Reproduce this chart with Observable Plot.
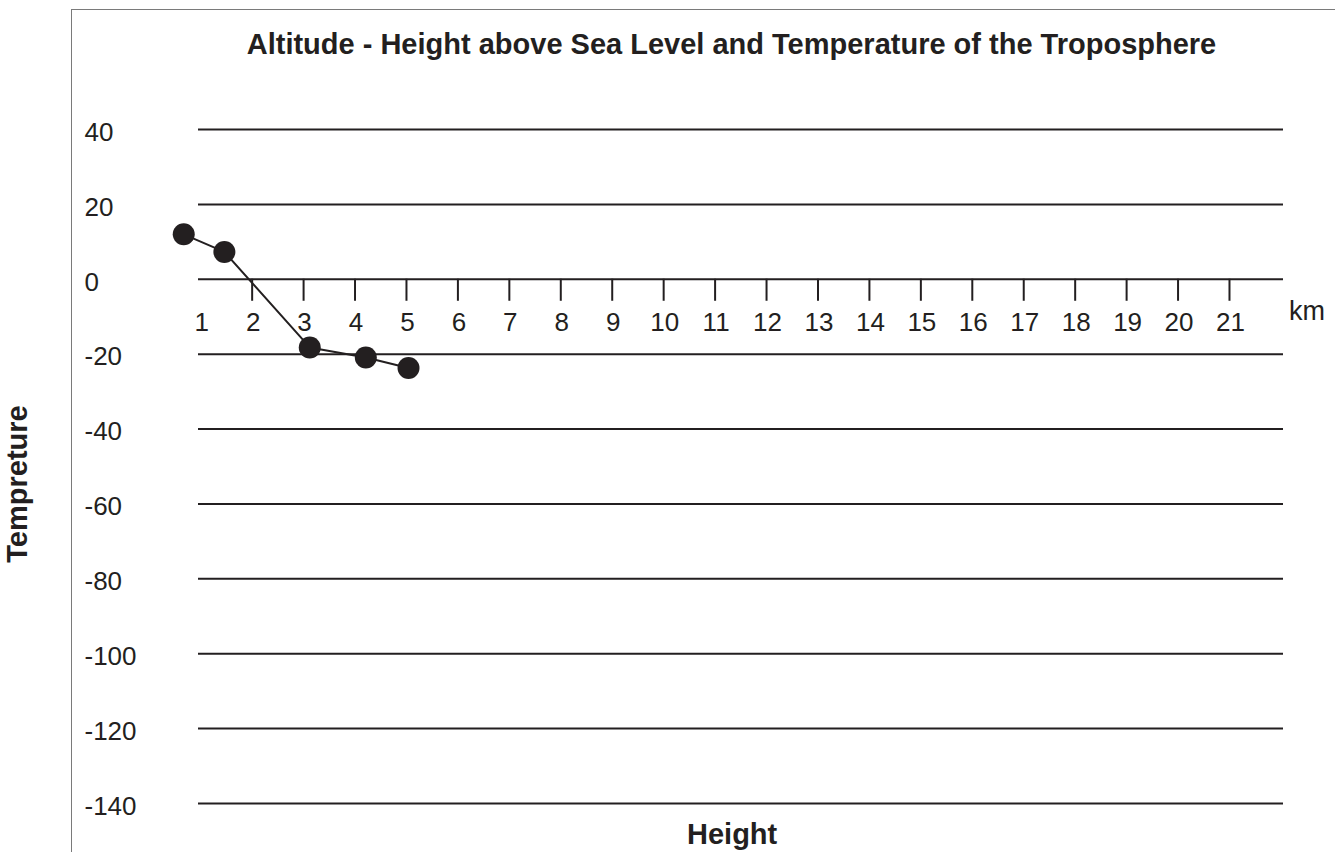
<!DOCTYPE html>
<html>
<head>
<meta charset="utf-8">
<script src="https://cdn.jsdelivr.net/npm/d3@7"></script>
<script src="https://cdn.jsdelivr.net/npm/@observablehq/plot@0.6"></script>
<style>
  html, body { margin: 0; padding: 0; background: #fff; }
  #wrap { position: relative; width: 1335px; height: 852px; overflow: hidden; font-family: "Liberation Sans", Arial, sans-serif; color: #231f20; }
  #frame { position: absolute; left: 71px; top: 9px; width: 1300px; height: 900px; border-top: 1.5px solid #7a7a7a; border-left: 1.5px solid #7a7a7a; }
  #chart { position: absolute; left: 0; top: 0; }
  .lbl { position: absolute; white-space: nowrap; font-weight: bold; font-size: 29px; line-height: 1; }
  #title { left: 0; width: 1463px; text-align: center; top: 30px; }
  #xlabel { left: 687px; top: 820px; }
  #ylabel { left: 32px; top: 484px; transform-origin: 0 0; transform: rotate(-90deg) translate(-50%, -100%); }
  #unit { position: absolute; left: 1289px; top: 298px; font-size: 27px; line-height: 1; }
</style>
</head>
<body>
<div id="wrap">
  <div id="frame"></div>
  <div id="chart"></div>
  <div id="title" class="lbl">Altitude - Height above Sea Level and Temperature of the Troposphere</div>
  <div id="xlabel" class="lbl">Height</div>
  <div id="ylabel" class="lbl">Tempreture</div>
  <div id="unit">km</div>
</div>
<script>
// Data (height in km, temperature)
const heights = [0.67, 1.46, 3.12, 4.21, 5.04];
const temps = [12, 7.3, -18.2, -20.9, -23.7];

// Axis ticks
const yTicks = [40, 20, 0, -20, -40, -60, -80, -100, -120, -140];
const xTickLabels = [1,2,3,4,5,6,7,8,9,10,11,12,13,14,15,16,17,18,19,20,21];
const xTickMarks = [2,3,4,5,6,7,8,9,10,11,12,13,14,15,16,17,18,19,20,21];

const points = heights.map((h, i) => ({height: h, temp: temps[i]}));
const ink = "#231f20";

const chart = Plot.plot({
  width: 1335,
  height: 852,
  marginTop: 129,
  marginBottom: 49,
  marginLeft: 198,
  marginRight: 52,
  style: {fontFamily: "'Liberation Sans', Arial, sans-serif", color: ink, background: "transparent"},
  x: {domain: [0.957, 22.05], axis: null},
  y: {domain: [-140, 40], axis: null},
  marks: [
    Plot.ruleY(yTicks, {y: d => d, stroke: ink, strokeWidth: 2}),
    Plot.axisY(yTicks, {anchor: "left", tickSize: 0, tickPadding: 0, textAnchor: "start", dx: -114, dy: 3, fontSize: 26, fill: ink, label: null, tickFormat: d => String(d)}),
    Plot.ruleX(xTickMarks, {x: d => d, y1: 0, y2: 0, insetBottom: -22, stroke: ink, strokeWidth: 2}),
    Plot.text(xTickLabels, {x: d => d, y: 0, text: d => String(d), dy: 43, dx: 1, fontSize: 26, fill: ink}),
    Plot.line(points, {x: "height", y: "temp", stroke: ink, strokeWidth: 2}),
    Plot.dot(points, {x: "height", y: "temp", r: 11, fill: ink, stroke: "none"})
  ]
});
document.getElementById("chart").appendChild(chart);
</script>
</body>
</html>
